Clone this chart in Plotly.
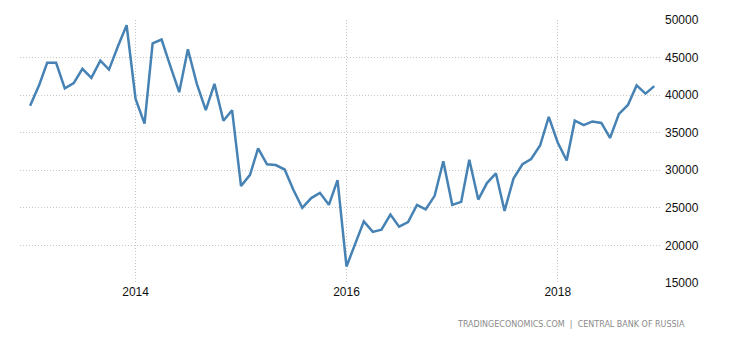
import plotly.graph_objects as go
import pandas as pd

dates = pd.date_range("2013-01-01", "2018-12-01", freq="MS")
values = [
    38600, 41300, 44300, 44300, 40900, 41600, 43500, 42300, 44600, 43400, 46500, 49300,
    39500, 36200, 46900, 47400, 43900, 40400, 46100, 41500, 38000, 41500, 36600, 38000,
    27900, 29400, 32900, 30800, 30700, 30100, 27400, 25000, 26300, 27000, 25400, 28700,
    17200, 20300, 23200, 21800, 22100, 24100, 22500, 23100, 25400, 24800, 26600, 31200,
    25400, 25800, 31400, 26100, 28300, 29600, 24600, 28900, 30800, 31500, 33300, 37100,
    33700, 31300, 36600, 36000, 36500, 36300, 34300, 37500, 38700, 41300, 40200, 41200,
]
x_tick_vals = ["2014-01-01", "2016-01-01", "2018-01-01"]
x_tick_text = ["2014", "2016", "2018"]
y_tick_vals = [15000, 20000, 25000, 30000, 35000, 40000, 45000, 50000]
y_tick_text = [str(v) for v in y_tick_vals]
source_text = "TRADINGECONOMICS.COM  |  CENTRAL BANK OF RUSSIA"

fig = go.Figure()
fig.add_trace(go.Scatter(
    x=dates, y=values, mode="lines",
    line=dict(color="#4682b4", width=2.5),
    hoverinfo="skip",
))

grid = dict(showgrid=True, gridcolor="#c8c8c8", griddash="1px,2px", gridwidth=1,
            zeroline=False, showline=False, ticks="")

fig.update_layout(
    width=730, height=340,
    margin=dict(l=20, r=70, t=20, b=57),
    paper_bgcolor="white", plot_bgcolor="white",
    showlegend=False,
    font=dict(family="Liberation Sans, Arial, sans-serif", size=12, color="#111"),
    xaxis=dict(
        range=["2012-11-27", "2018-12-21"],
        tickvals=x_tick_vals, ticktext=x_tick_text,
        tickfont=dict(size=12, color="#111"),
        **grid,
    ),
    yaxis=dict(
        range=[15000, 50000], side="right",
        tickvals=y_tick_vals, ticktext=y_tick_text,
        ticklabelstandoff=4,
        tickfont=dict(size=12, color="#111"),
        **grid,
    ),
    annotations=[dict(
        text=source_text, xref="paper", yref="paper",
        x=(687 - 20) / 640, y=-(324 - 283) / 263, xanchor="right", yanchor="middle",
        showarrow=False,
        font=dict(family="DejaVu Sans, sans-serif", size=8, color="#8a8a8a"),
    )],
)

fig.write_html("out.html")
